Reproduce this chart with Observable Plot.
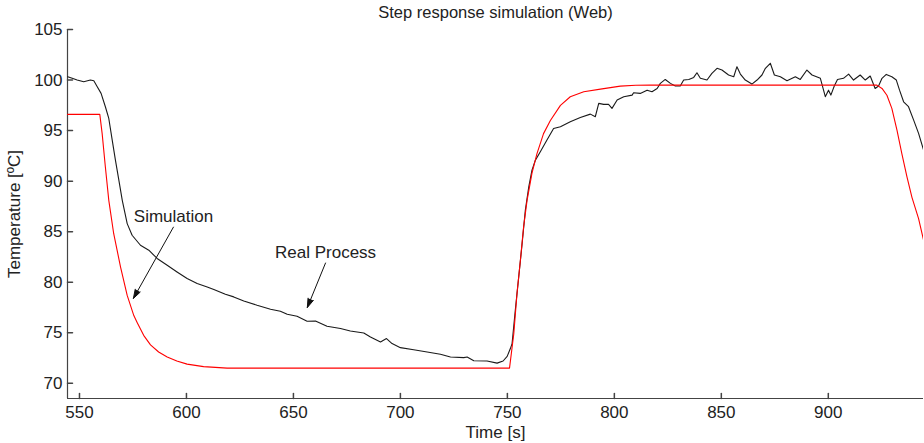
<!DOCTYPE html>
<html><head><meta charset="utf-8">
<script src="https://cdn.jsdelivr.net/npm/d3@7"></script>
<script src="https://cdn.jsdelivr.net/npm/@observablehq/plot@0.6"></script>
<style>body{margin:0;background:#fff}</style>
</head><body><div id="chart"></div>
<script>
const titleText = "Step response simulation (Web)";
const xLabel = "Time [s]";
const yLabel = "Temperature [ºC]";
const xTicks = [550, 600, 650, 700, 750, 800, 850, 900];
const yTicks = [70, 75, 80, 85, 90, 95, 100, 105];
const xDomain = [544.4, 944.5];
const yDomain = [68.5, 105];

// Simulation (red)
const simTime = [544.4, 559.5, 560.6, 562.1, 563.7, 566.0, 569.2, 572.3, 575.4, 577.0, 580.0, 583.2, 587, 591.0, 595.5, 600.3, 608, 619.0, 751.0, 753.0, 754.5, 756.1, 757.6, 759.2, 761.5, 763.8, 766.9, 770.1, 774.8, 779.4, 785.7, 793.5, 802.8, 810, 816.8, 822, 922.7, 925.1, 927.4, 929.7, 932.1, 934.4, 936.8, 939.1, 942.2, 944.5];
const simTemp = [96.6, 96.6, 94.7, 91.4, 88.1, 84.8, 81.5, 78.7, 76.7, 76.0, 74.75, 73.8, 73.1, 72.6, 72.2, 71.9, 71.65, 71.5, 71.5, 74.9, 78.9, 82.2, 85.5, 88.1, 90.8, 92.7, 94.7, 96.0, 97.5, 98.35, 98.85, 99.1, 99.4, 99.48, 99.5, 99.5, 99.5, 99.17, 98.5, 97.2, 95.05, 92.7, 90.4, 88.4, 86.3, 84.2];

// Real process (black)
const realTime = [544.5, 546.6, 548.9, 552.0, 555.1, 556.7, 558.3, 560.1, 562.1, 563.7,
  565.3, 566.8, 568.4, 570.0, 572.3, 574.6, 578.5, 582.4, 586.3, 591.0,
  595.6, 600.3, 605.0, 609.7, 612.8, 618.2, 622.1, 626.8, 633.0, 639.3,
  643.9, 647.1, 651.7, 656.4, 660.3, 665.7, 672.0, 676.6, 682.9, 686.0,
  690.7, 693.5, 696.1, 700.0, 706.2, 712.5, 718.7, 723.4, 729.6, 731.2,
  734.3, 740.5, 745.2, 748.0, 749.9, 751.4, 752.2, 753.7, 755.3, 756.9,
  758.4, 760.0, 761.5, 763.1, 765.4, 768.5, 771.6, 774.8, 779.4, 784.1,
  788.8, 791.1, 792.7, 795.0, 797.3, 798.9, 801.3, 804.4, 808.3, 809.0,
  812.1, 815.3, 817.6, 820.0, 821.5, 823.8, 826.2, 828.5, 830.8, 832.4,
  834.8, 837.1, 838.6, 840.2, 843.3, 845.6, 848.0, 850.3, 853.4, 855.8,
  857.3, 858.9, 861.2, 864.3, 866.7, 869.0, 870.6, 872.9, 874.8, 877.6,
  880.7, 884.6, 886.9, 890.0, 892.4, 896.3, 898.6, 900.1, 901.2, 902.8,
  904.3, 907.1, 909.5, 911.8, 914.9, 917.3, 919.6, 921.9, 923.5, 925.1,
  927.1, 929.7, 931.8, 933.3, 935.2, 937.5, 939.9, 942.2, 944.5];
const realTemp = [100.33, 100.17, 100.0, 99.83, 100.0, 99.93, 99.34, 98.68, 97.36, 96.2,
  94.06, 92.08, 90.1, 88.1, 85.8, 84.65, 83.66, 83.17, 82.35, 81.68,
  81.02, 80.37, 79.87, 79.53, 79.28, 78.81, 78.55, 78.15, 77.72, 77.33,
  77.13, 76.83, 76.63, 76.14, 76.17, 75.64, 75.42, 75.18, 74.98, 74.59,
  74.09, 74.43, 73.93, 73.53, 73.33, 73.1, 72.87, 72.6, 72.54, 72.6,
  72.24, 72.21, 72.0, 72.21, 72.67, 73.44, 73.93, 77.23, 80.52, 83.83,
  87.13, 89.44, 91.09, 92.08, 92.9, 94.06, 95.2, 95.38, 95.87, 96.3,
  96.63, 96.37, 97.69, 97.59, 97.59, 97.2, 98.02, 98.35, 98.51, 98.74,
  98.68, 99.0, 98.84, 99.17, 99.67, 100.06, 99.67, 99.41, 99.41, 100.0,
  100.06, 100.26, 100.72, 100.17, 100.0, 100.66, 101.16, 100.99, 100.5, 100.33,
  101.32, 100.59, 100.0, 99.6, 100.0, 100.5, 101.16, 101.66, 100.5, 100.33,
  99.93, 100.33, 100.06, 100.99, 100.5, 100.17, 98.35, 99.0, 98.51, 99.41,
  100.06, 100.17, 100.59, 100.0, 100.5, 100.0, 100.4, 99.17, 99.41, 100.17,
  100.56, 100.33, 100.0, 99.0, 97.85, 97.36, 96.04, 94.72, 93.1];

// Annotations
const noteLabels = ["Simulation", "Real Process"];
const noteTextX = [575.4, 641.4];
const noteTextY = [86.5, 82.9];
const arrowX1 = [593.9, 665.0];
const arrowY1 = [85.45, 81.9];
const arrowX2 = [575.2, 656.5];
const arrowY2 = [78.4, 77.5];

const sim = simTime.map((t, i) => ({t, v: simTemp[i]}));
const real = realTime.map((t, i) => ({t, v: realTemp[i]}));
const notes = noteLabels.map((label, i) => ({label, x: noteTextX[i], y: noteTextY[i], x1: arrowX1[i], y1: arrowY1[i], x2: arrowX2[i], y2: arrowY2[i]}));

const tickShape = {draw(context, l) { context.moveTo(0, 0); context.lineTo(0, -l); }};
const axisColor = "#444";

const chart = Plot.plot({
  width: 924, height: 443,
  marginLeft: 67, marginRight: 1, marginTop: 29, marginBottom: 45,
  style: {fontFamily: "'Liberation Sans', Arial, sans-serif", fontSize: "17px", color: "#222", background: "#fff"},
  x: {domain: xDomain},
  y: {domain: yDomain},
  marks: [
    Plot.axisX({ticks: xTicks, tickSize: 0, tickPadding: 7, label: xLabel, labelAnchor: "center", labelOffset: 39, labelArrow: "none"}),
    Plot.axisY({ticks: yTicks, tickSize: 0, tickPadding: 5, label: yLabel, labelAnchor: "center", labelOffset: 60, labelArrow: "none"}),
    Plot.ruleX([xDomain[0]], {y1: yTicks[yTicks.length - 1], y2: yDomain[0], stroke: axisColor, strokeWidth: 1.2}),
    Plot.ruleY([yDomain[0]], {stroke: axisColor, strokeWidth: 1.2}),
    Plot.vector(yTicks, {x: xDomain[0], y: d => d, length: 5, rotate: 90, anchor: "start", shape: tickShape, stroke: axisColor}),
    Plot.vector(xTicks, {x: d => d, y: yDomain[0], length: 5, rotate: 0, anchor: "start", shape: tickShape, stroke: axisColor}),
    Plot.line(real, {x: "t", y: "v", stroke: "#1a1a1a", strokeWidth: 1.1, clip: true}),
    Plot.line(sim, {x: "t", y: "v", stroke: "#ff0000", strokeWidth: 1.1, clip: true}),
    Plot.text(notes, {x: "x", y: "y", text: "label", textAnchor: "start", fill: "#222"}),
    Plot.arrow(notes, {x1: "x1", y1: "y1", x2: "x2", y2: "y2", stroke: "#111", fill: "#111", headLength: 14, headAngle: 36, strokeWidth: 1}),
    Plot.text([titleText], {frameAnchor: "top", dy: -23, fill: "#222", fontSize: 16.5})
  ]
});
document.getElementById("chart").appendChild(chart);
</script>
</body></html>
